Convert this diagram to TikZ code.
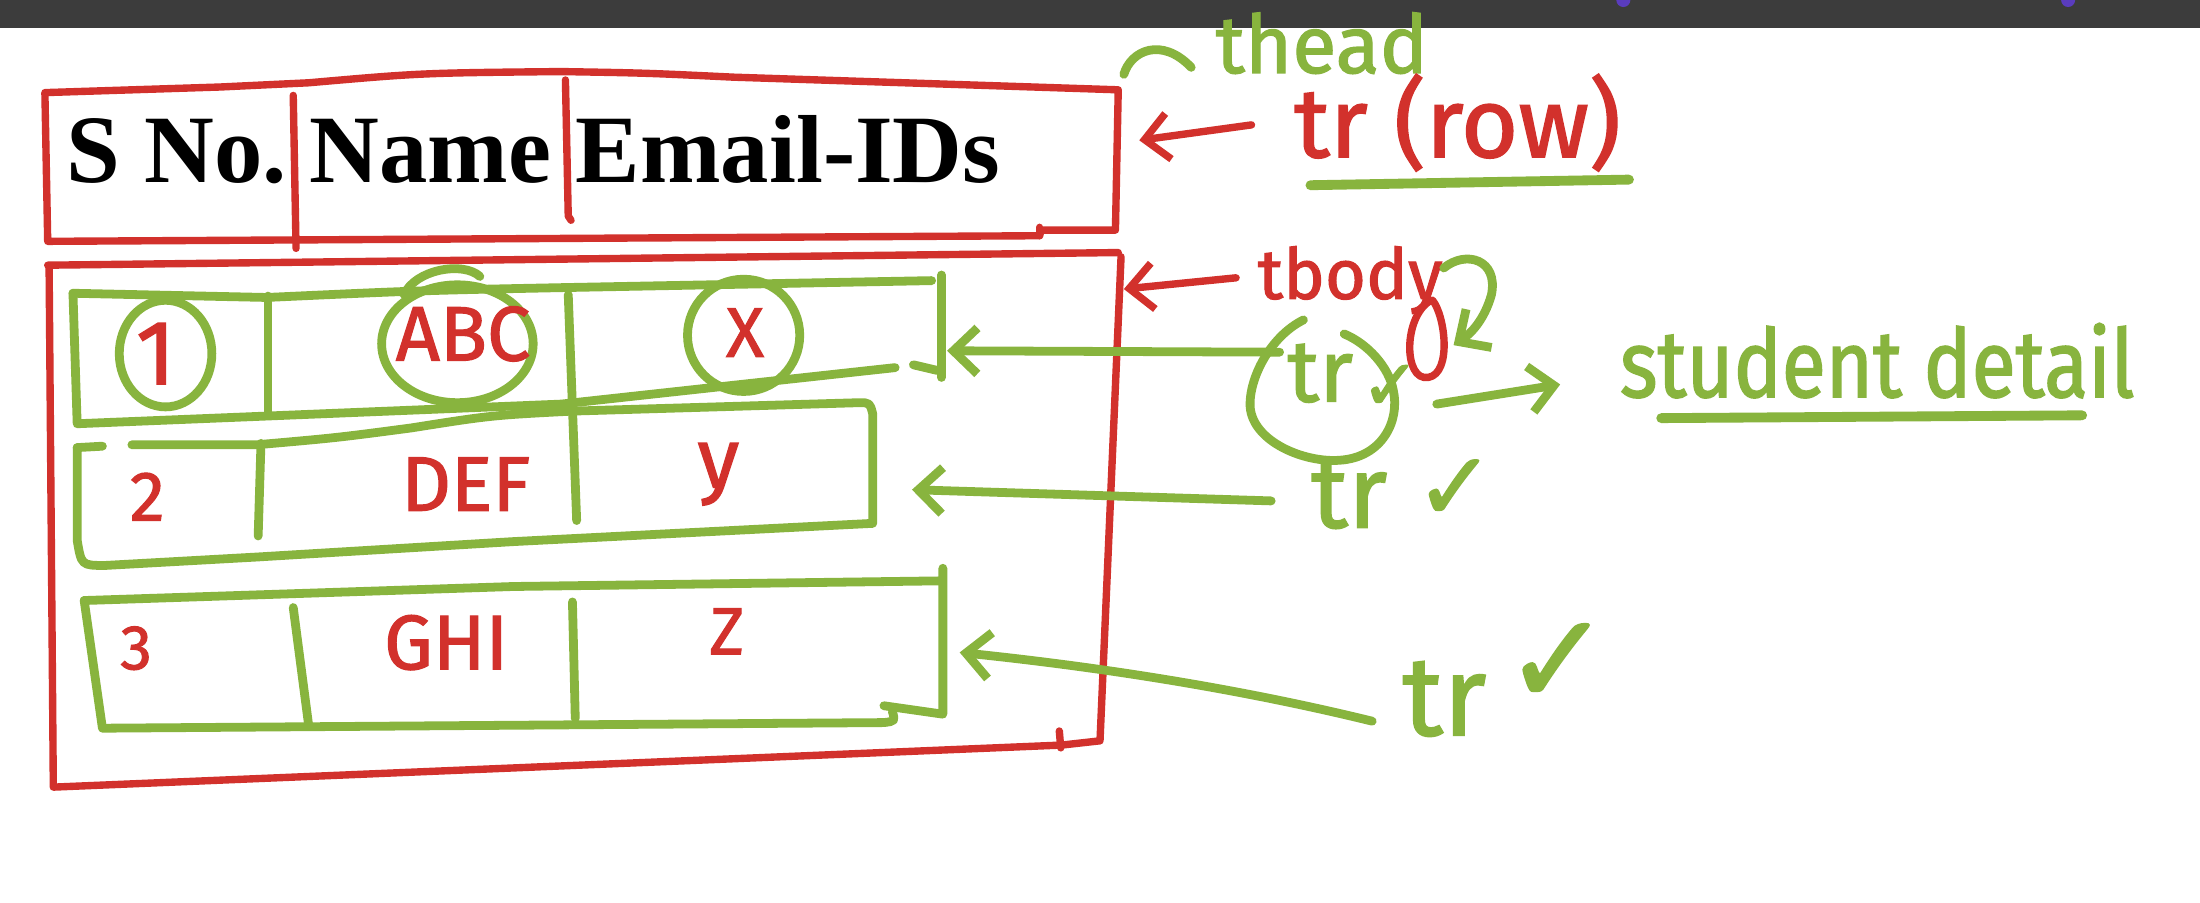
\documentclass[tikz,border=0pt]{standalone}
\usepackage{fontspec}
\setmainfont{Liberation Serif}
\newfontfamily\hand{Fira Sans}[FakeBold=1.5]
\newfontfamily\handc{Fira Sans}[FakeBold=1.5,FakeStretch=0.85]
\newfontfamily\symf{DejaVu Sans}[FakeBold=1.5]
\usetikzlibrary{arrows.meta}
\definecolor{myred}{RGB}{210,49,44}
\definecolor{mygreen}{RGB}{136,180,62}
\definecolor{barc}{RGB}{60,60,60}
\definecolor{purp}{RGB}{90,60,190}
\tikzset{
  rl/.style={draw=myred, line width=2.1pt, line cap=round, line join=round},
  gl/.style={draw=mygreen, line width=2.5pt, line cap=round, line join=round},
  hd/.style={font=\bfseries\fontsize{27.5}{30}\selectfont, inner sep=0pt, anchor=base west},
  rt/.style={text=myred, inner sep=0pt, font=\hand\fontsize{#1}{#1}\selectfont},
  gt/.style={text=mygreen, inner sep=0pt, font=\hand\fontsize{#1}{#1}\selectfont},
  gtc/.style={text=mygreen, inner sep=0pt, font=\handc\fontsize{#1}{#1}\selectfont},
  ck/.style={text=mygreen, inner sep=0pt, font=\symf\fontsize{#1}{#1}\selectfont},
  barb/.style={-{Straight Barb[length=2.4mm,width=4.6mm]}},
}
\begin{document}
\begin{tikzpicture}[x=0.14031mm,y=-0.14031mm]
\useasboundingbox (0,0) rectangle (1568,643);
\fill[white] (0,0) rectangle (1568,643);
\fill[barc] (0,0) rectangle (1568,20);
\fill[purp] (1157,0) circle (5);
\fill[purp] (1474,0) circle (5);

% ---------- header (thead) ----------
\draw[rl] (32,66) -- (157,62) -- (220,59) .. controls (300,52) .. (400,51)
  .. controls (460,52) .. (523,55) -- (797,64) -- (795,164) -- (742,164)
  -- (741,168) -- (34,172) -- cycle;
\draw[rl] (741,162) -- (741,168);
\draw[rl] (209,68) -- (211,177);
\draw[rl] (403,57) -- (405,154) -- (407,157);
\node[hd] (hsno) at (47,130) {S No.};
\node[hd] (hname) at (220,130) {Name};
\node[hd] (hemail) at (410,130) {Email-IDs};

% ---------- tbody ----------
\draw[rl] (34,189) -- (797,180);
\draw[rl] (799,183) -- (784,528) -- (757,531) -- (38,561) -- (35,190);
\draw[rl] (755,521) -- (756,533);

% ---------- row 1 ----------
\draw[gl] (52,209) -- (190,212) .. controls (300,207) .. (400,205) -- (664,200);
\draw[gl] (671,196) -- (671,269);
\draw[gl] (651,260) -- (668,264);
\draw[gl] (638,262) -- (400,288) -- (55,302) -- (52,209);
\draw[gl] (191,211) -- (191,293);
\draw[gl] (405,210) -- (411,371);
\draw[gl] (118,252) ellipse [x radius=33, y radius=38];
\draw[gl] (326,245) ellipse [x radius=54, y radius=42];
\draw[gl] (288,210) .. controls (296,192) and (330,186) .. (342,197);
\draw[gl] (530,239) ellipse [x radius=40, y radius=40];
\node[rt=26] (c11) at (111,252) {1};
\node[rt=22] (c12) at (330,238) {ABC};
\node[rt=20] (c13) at (531,237) {X};

% ---------- row 2 ----------
\draw[gl] (55,319) -- (73,318);
\draw[gl] (94,317) -- (183,317) .. controls (240,312) .. (293,305)
  .. controls (350,296) .. (408,293) -- (612,287) .. controls (620,287) .. (622,295)
  -- (622,373) -- (366,386) -- (183,397) -- (75,403) .. controls (58,403) .. (55,385) -- (55,319);
\draw[gl] (186,316) -- (184,382);
\node[rt=20] (c21) at (105,354) {2};
\node[rt=22] (c22) at (332,345) {DEF};
\node[rt=24] (c23) at (512,338) {y};

% ---------- row 3 ----------
\draw[gl] (60,428) -- (366,418) -- (669,414);
\draw[gl] (672,405) -- (672,509) -- (630,503);
\draw[gl] (636,507) .. controls (638,514) .. (630,515) -- (73,519) -- (60,428);
\draw[gl] (209,433) -- (220,517);
\draw[gl] (408,429) -- (410,512);
\node[rt=18] (c31) at (97,462) {3};
\node[rt=22] (c32) at (318,458) {GHI};
\node[rt=19] (c33) at (518,450) {Z};

% ---------- annotations ----------
\draw[gl] (801,53) .. controls (806,36) and (828,26) .. (849,48);
\node[gt=23, anchor=base west] (thead) at (866,52) {thead};

\node[rt=28, anchor=base west] (trrow) at (922,112) {tr (row)};
\draw[gl, line width=2.8pt] (934,132) -- (1161,128);
\coordinate (a0s) at (892,89);
\coordinate (a0t) at (812,100);
\draw[rl, barb] (a0s) -- (a0t);

\node[rt=20, anchor=base west] (tbody) at (896,213) {tbody};
\coordinate (a1s) at (881,198);
\coordinate (a1t) at (801,206);
\draw[rl, barb] (a1s) -- (a1t);
\draw[rl] (1020,214) .. controls (1000,225) and (1000,272) .. (1018,269)
  .. controls (1035,266) and (1030,225) .. (1021,214);
\draw[gl, barb] (1029,191) .. controls (1045,178) and (1068,185) .. (1063,210)
  .. controls (1058,228) and (1048,238) .. (1036,246);

% tr circled
\node[gt=25] (tr1) at (941,266) {tr};
\draw[gl] (929,228) .. controls (905,240) and (890,270) .. (891,290)
  .. controls (893,315) and (930,330) .. (955,328)
  .. controls (985,326) and (998,300) .. (993,278)
  .. controls (990,262) and (975,245) .. (958,238);
\node[ck=20] (ck1) at (991,276) {✓};
\coordinate (r1s) at (912,251);
\coordinate (r1t) at (675,250);
\draw[gl, barb] (r1s) -- (r1t);
\coordinate (sds) at (1024,288);
\coordinate (sdt) at (1112,274);
\draw[gl, barb] (sds) -- (sdt);
\node[gtc=27, anchor=base west] (stud) at (1154,283) {student detail};
\draw[gl, line width=2.8pt] (1184,298) -- (1484,296);

% tr row 2
\node[gt=29, anchor=base west] (tr2) at (934,376) {tr};
\node[ck=27] (ck2) at (1037,349) {✓};
\coordinate (r2s) at (906,357);
\coordinate (r2t) at (650,349);
\draw[gl, barb] (r2s) -- (r2t);

% tr row 3
\node[gt=32, anchor=base west] (tr3) at (999,524) {tr};
\node[ck=36] (ck3) at (1110,473) {✓};
\coordinate (r3s) at (978,514);
\coordinate (r3t) at (684,465);
\draw[gl, barb] (r3s) .. controls (880,490) and (780,475) .. (r3t);
\end{tikzpicture}
\end{document}
